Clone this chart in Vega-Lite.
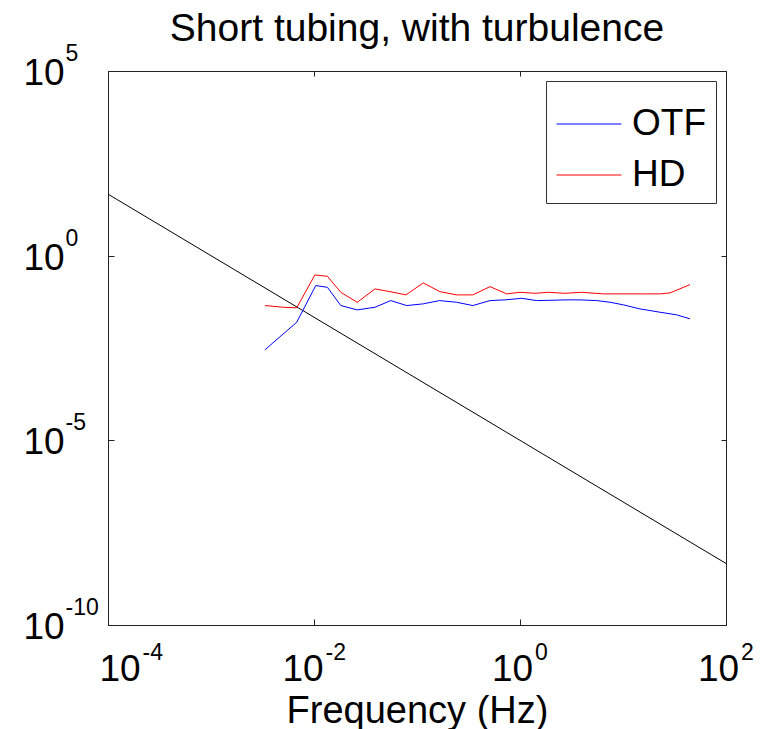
{
  "$schema": "https://vega.github.io/schema/vega-lite/v6.json",
  "autosize": {"type": "none"},
  "width": 618,
  "height": 554,
  "padding": {"left": 108, "top": 71, "right": 39, "bottom": 104},
  "background": "white",
  "title": {"text": "Short tubing, with turbulence", "fontSize": 39, "fontWeight": "normal", "font": "Liberation Sans", "color": "#000", "baseline": "alphabetic", "offset": 0, "dy": 37, "anchor": "middle"},
  "config": {
    "font": "Liberation Sans",
    "view": {"stroke": "#222", "strokeWidth": 1},
    "axis": {"grid": false, "domain": false, "tickColor": "#222", "tickSize": -6, "labelFont": "Liberation Sans", "labelFontSize": 37, "labelColor": "#000", "titleFont": "Liberation Sans", "titleFontSize": 38, "titleFontWeight": "normal", "titleColor": "#000", "labelOverlap": false}
  },
  "resolve": {"axis": {"x": "independent", "y": "independent"}},
  "datasets": {
    "ref": [{"f": 0.0001, "v": 46.4}, {"f": 100, "v": 4.64e-9}],
    "spectra": [
      {"series": "OTF", "f": 0.00334, "v": 0.00283},
      {"series": "OTF", "f": 0.00679, "v": 0.0157},
      {"series": "OTF", "f": 0.0104, "v": 0.155},
      {"series": "OTF", "f": 0.0135, "v": 0.139},
      {"series": "OTF", "f": 0.0182, "v": 0.0446},
      {"series": "OTF", "f": 0.0263, "v": 0.034},
      {"series": "OTF", "f": 0.0391, "v": 0.0401},
      {"series": "OTF", "f": 0.0556, "v": 0.0608},
      {"series": "OTF", "f": 0.0794, "v": 0.0446},
      {"series": "OTF", "f": 0.115, "v": 0.0496},
      {"series": "OTF", "f": 0.165, "v": 0.0608},
      {"series": "OTF", "f": 0.243, "v": 0.0547},
      {"series": "OTF", "f": 0.348, "v": 0.0446},
      {"series": "OTF", "f": 0.512, "v": 0.0608},
      {"series": "OTF", "f": 0.715, "v": 0.0635},
      {"series": "OTF", "f": 1.04, "v": 0.0701},
      {"series": "OTF", "f": 1.45, "v": 0.0608},
      {"series": "OTF", "f": 2.0, "v": 0.062},
      {"series": "OTF", "f": 2.74, "v": 0.0635},
      {"series": "OTF", "f": 3.83, "v": 0.0635},
      {"series": "OTF", "f": 5.56, "v": 0.0608},
      {"series": "OTF", "f": 7.48, "v": 0.0547},
      {"series": "OTF", "f": 10.1, "v": 0.0466},
      {"series": "OTF", "f": 14.6, "v": 0.0362},
      {"series": "OTF", "f": 22.9, "v": 0.0294},
      {"series": "OTF", "f": 33.2, "v": 0.025},
      {"series": "OTF", "f": 44.7, "v": 0.0195},
      {"series": "HD", "f": 0.00334, "v": 0.0446},
      {"series": "HD", "f": 0.00504, "v": 0.0401},
      {"series": "HD", "f": 0.00679, "v": 0.0386},
      {"series": "HD", "f": 0.0102, "v": 0.301},
      {"series": "HD", "f": 0.0135, "v": 0.276},
      {"series": "HD", "f": 0.0182, "v": 0.102},
      {"series": "HD", "f": 0.0263, "v": 0.0547},
      {"series": "HD", "f": 0.0391, "v": 0.126},
      {"series": "HD", "f": 0.0547, "v": 0.106},
      {"series": "HD", "f": 0.0782, "v": 0.0867},
      {"series": "HD", "f": 0.115, "v": 0.183},
      {"series": "HD", "f": 0.167, "v": 0.106},
      {"series": "HD", "f": 0.243, "v": 0.0867},
      {"series": "HD", "f": 0.348, "v": 0.0867},
      {"series": "HD", "f": 0.512, "v": 0.145},
      {"series": "HD", "f": 0.743, "v": 0.0923},
      {"series": "HD", "f": 1.0, "v": 0.102},
      {"series": "HD", "f": 1.4, "v": 0.0957},
      {"series": "HD", "f": 1.88, "v": 0.102},
      {"series": "HD", "f": 2.74, "v": 0.0957},
      {"series": "HD", "f": 3.97, "v": 0.102},
      {"series": "HD", "f": 6.44, "v": 0.0923},
      {"series": "HD", "f": 9.35, "v": 0.0923},
      {"series": "HD", "f": 17.0, "v": 0.0923},
      {"series": "HD", "f": 22.9, "v": 0.0923},
      {"series": "HD", "f": 28.6, "v": 0.0982},
      {"series": "HD", "f": 44.7, "v": 0.164}
    ]
  },
  "layer": [
    {
      "data": {"name": "ref"},
      "mark": {"type": "line", "color": "#000", "strokeWidth": 1},
      "encoding": {
        "x": {"field": "f", "type": "quantitative", "scale": {"type": "log", "domain": [0.0001, 100]},
          "axis": {"orient": "bottom", "title": "Frequency (Hz)", "values": [0.0001, 0.01, 1, 100], "labelBaseline": "alphabetic", "labelPadding": 61, "labelAlign": "center",
            "labelOffset": {"condition": [{"test": "datum.value <= 0.0002", "value": 11.5}, {"test": "datum.value <= 0.02", "value": -11.5}], "value": -8},
            "labelExpr": "'10'",
            "titleBaseline": "alphabetic", "titleY": 97}},
        "y": {"field": "v", "type": "quantitative", "scale": {"type": "log", "domain": [1e-10, 100000]},
          "axis": {"orient": "left", "title": null, "values": [1e-10, 1e-5, 1, 100000], "labelAlign": "left", "labelBaseline": "alphabetic", "labelPadding": 91, "labelOffset": 13.5,
            "labelExpr": "'10'"}}
      }
    },
    {
      "data": {"name": "spectra"},
      "mark": {"type": "line", "strokeWidth": 1},
      "encoding": {
        "x": {"field": "f", "type": "quantitative",
          "axis": {"orient": "bottom", "title": null, "values": [0.0001, 0.01, 1, 100], "ticks": false, "labelFontSize": 23, "labelBaseline": "alphabetic", "labelPadding": 34, "labelAlign": "left",
            "labelOffset": {"condition": [{"test": "datum.value <= 0.0002", "value": 34}, {"test": "datum.value <= 0.02", "value": 11}], "value": 14.5},
            "labelExpr": "datum.value <= 0.0002 ? '-4' : datum.value <= 0.02 ? '-2' : datum.value <= 2 ? '0' : '2'"}},
        "y": {"field": "v", "type": "quantitative",
          "axis": {"orient": "left", "title": null, "values": [1e-10, 1e-5, 1, 100000], "ticks": false, "labelFontSize": 23, "labelAlign": "left", "labelBaseline": "alphabetic", "labelPadding": 43, "labelOffset": -10.5,
            "labelExpr": "datum.value <= 1e-9 ? '-10' : datum.value <= 1e-4 ? '-5' : datum.value <= 2 ? '0' : '5'"}},
        "color": {"field": "series", "type": "nominal", "scale": {"domain": ["OTF", "HD"], "range": ["#0000ff", "#ff0000"]},
          "legend": {"title": null, "orient": "top-right", "offset": 10, "padding": 10, "strokeColor": "#333", "fillColor": "white", "symbolType": "stroke", "symbolSize": 4225, "symbolStrokeWidth": 1, "labelFontSize": 37, "labelFont": "Liberation Sans", "labelColor": "#000", "labelOffset": 10, "rowPadding": -12}}
      }
    },
    {
      "data": {"name": "ref"},
      "mark": {"type": "line", "strokeOpacity": 0},
      "encoding": {
        "x": {"field": "f", "type": "quantitative",
          "axis": {"orient": "top", "title": null, "values": [0.0001, 0.01, 1, 100], "labels": false, "tickSize": -5}},
        "y": {"field": "v", "type": "quantitative",
          "axis": {"orient": "right", "title": null, "values": [1e-10, 1e-5, 1, 100000], "labels": false, "tickSize": -5}}
      }
    }
  ]
}
